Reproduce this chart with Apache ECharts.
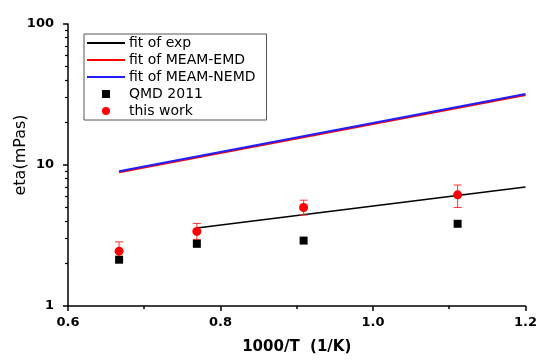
<!DOCTYPE html>
<html><head><meta charset="utf-8">
<script src="https://cdn.jsdelivr.net/npm/echarts@6/dist/echarts.min.js"></script>
<style>html,body{margin:0;padding:0;background:#fff}#c{width:540px;height:360px}</style>
</head><body><div id="c"></div>
<script>
// ---- data ----
const fitExpX = [0.769, 1.2];
const fitExpY = [3.57, 6.98];
const fitEmdX = [0.667, 1.2];
const fitEmdY = [8.89, 31.4];
const fitNemdX = [0.667, 1.2];
const fitNemdY = [9.03, 31.9];
const qmdX = [0.667, 0.769, 0.909, 1.111];
const qmdY = [2.13, 2.76, 2.91, 3.83];
const workX = [0.667, 0.769, 0.909, 1.111];
const workY = [2.45, 3.38, 5.0, 6.14];
const workLow = [2.1, 2.96, 4.42, 5.0];
const workHigh = [2.85, 3.85, 5.63, 7.21];
const xTicks = [0.6, 0.8, 1.0, 1.2];
const yTicks = [1, 10, 100];
const yMinorTicks = [2, 3, 4, 5, 6, 7, 8, 9, 20, 30, 40, 50, 60, 70, 80, 90];
const names = ['fit of exp', 'fit of MEAM-EMD', 'fit of MEAM-NEMD', 'QMD 2011', 'this work'];

const zip = (a, b) => a.map((v, i) => [v, b[i]]);
const FONT = '"DejaVu Sans", sans-serif';
const LINE_ICON = 'path://M0,0H38V2H0Z';

const chart = echarts.init(document.getElementById('c'), null, {renderer: 'canvas'});
chart.setOption({
  animation: false,
  backgroundColor: '#fff',
  grid: {left: 68, right: 14, top: 24, bottom: 50, containLabel: false},
  xAxis: {
    type: 'value', min: 0.6, max: 1.2, interval: 0.2,
    name: '1000/T  (1/K)', nameLocation: 'middle', nameGap: 34,
    nameTextStyle: {fontFamily: FONT, fontWeight: 'bold', fontSize: 15, color: '#000'},
    axisLine: {lineStyle: {color: '#000', width: 1.5}},
    axisTick: {show: true, length: 5, lineStyle: {color: '#000', width: 1.5}},
    minorTick: {show: true, splitNumber: 2, length: 3, lineStyle: {color: '#000', width: 1.5}},
    splitLine: {show: false},
    axisLabel: {fontFamily: FONT, fontWeight: 'bold', fontSize: 13, color: '#000', margin: 10,
      customValues: xTicks, formatter: v => v.toFixed(1)}
  },
  yAxis: [{
    type: 'log', logBase: 10, min: 1, max: 100,
    axisLine: {show: true, lineStyle: {color: '#000', width: 1.5}},
    axisTick: {show: true, length: 5, customValues: yTicks, lineStyle: {color: '#000', width: 1.5}},
    splitLine: {show: false},
    axisLabel: {fontFamily: FONT, fontWeight: 'bold', fontSize: 13, color: '#000', margin: 14,
      customValues: yTicks}
  }, {
    type: 'log', logBase: 10, min: 1, max: 100, position: 'left',
    axisLine: {show: false},
    axisTick: {show: true, length: 3, customValues: yMinorTicks, lineStyle: {color: '#000', width: 1.2}},
    splitLine: {show: false},
    axisLabel: {show: false}
  }],
  legend: {
    left: 84, top: 34, orient: 'vertical',
    data: [
      {name: names[0], icon: LINE_ICON}, {name: names[1], icon: LINE_ICON}, {name: names[2], icon: LINE_ICON},
      {name: names[3], icon: 'path://M0,0H10V10H0Z'}, {name: names[4], icon: 'circle'}
    ],
    itemWidth: 38, itemHeight: 8, itemGap: 3, symbolKeepAspect: true,
    padding: [2, 11, 2, 3],
    borderColor: '#555', borderWidth: 1,
    textStyle: {fontFamily: FONT, fontSize: 14, color: '#000', lineHeight: 14, padding: [0, 0, 0, -1]}
  },
  graphic: [{
    type: 'text', x: 21, y: 155, rotation: Math.PI / 2,
    style: {text: 'eta(mPas)', font: '16px ' + FONT, fill: '#000', align: 'center', verticalAlign: 'middle'}
  }],
  series: [
    {name: names[0], type: 'line', data: zip(fitExpX, fitExpY), symbol: 'none', showSymbol: false,
      lineStyle: {color: '#000', width: 1.5}, itemStyle: {color: '#000'}, z: 2},
    {name: names[1], type: 'line', data: zip(fitEmdX, fitEmdY), symbol: 'none', showSymbol: false,
      lineStyle: {color: '#ff0000', width: 2}, itemStyle: {color: '#ff0000'}, z: 2},
    {name: names[2], type: 'line', data: zip(fitNemdX, fitNemdY), symbol: 'none', showSymbol: false,
      lineStyle: {color: '#2020ff', width: 2}, itemStyle: {color: '#2020ff'}, z: 2},
    {name: 'err', type: 'custom', z: 3,
      data: workX.map((x, i) => [x, workLow[i], workHigh[i]]),
      renderItem: (params, api) => {
        const lo = api.coord([api.value(0), api.value(1)]);
        const hi = api.coord([api.value(0), api.value(2)]);
        const c = 4;
        const st = {stroke: '#ff3333', lineWidth: 1};
        return {type: 'group', children: [
          {type: 'line', shape: {x1: lo[0], y1: lo[1], x2: hi[0], y2: hi[1]}, style: st},
          {type: 'line', shape: {x1: lo[0] - c, y1: lo[1], x2: lo[0] + c, y2: lo[1]}, style: st},
          {type: 'line', shape: {x1: hi[0] - c, y1: hi[1], x2: hi[0] + c, y2: hi[1]}, style: st}
        ]};
      }
    },
    {name: names[3], type: 'scatter', data: zip(qmdX, qmdY), symbol: 'rect', symbolSize: 8,
      itemStyle: {color: '#000', opacity: 1}, z: 4},
    {name: names[4], type: 'scatter', data: zip(workX, workY), symbol: 'circle', symbolSize: 9,
      itemStyle: {color: '#ff0000', opacity: 1}, z: 5}
  ]
});
</script></body></html>
